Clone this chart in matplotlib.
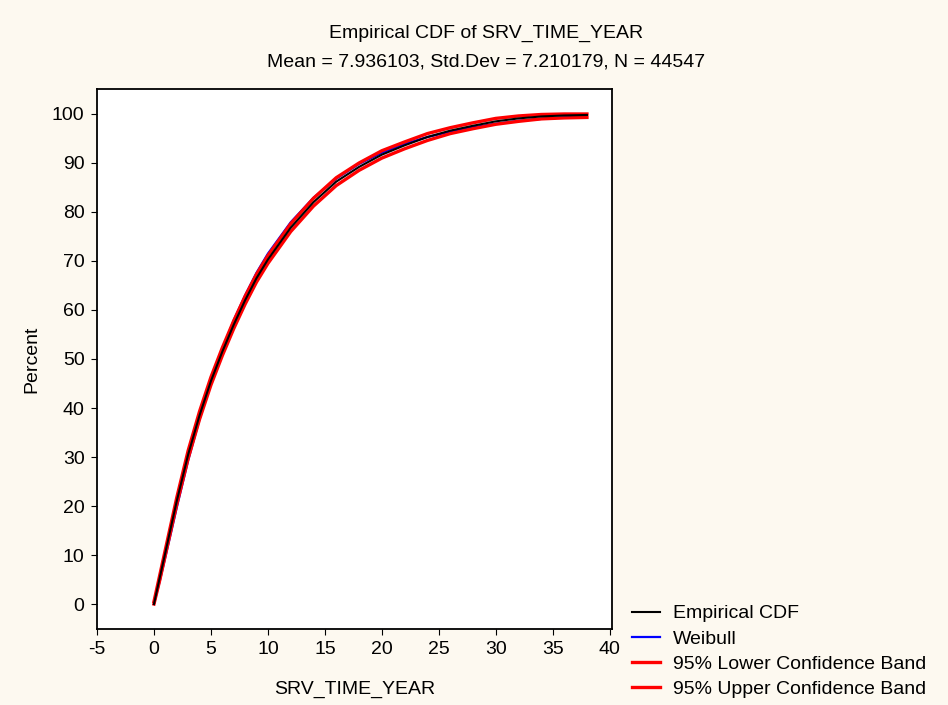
import matplotlib.pyplot as plt

plt.rcParams['font.family'] = ['Liberation Sans', 'DejaVu Sans']
plt.rcParams['axes.unicode_minus'] = False

# values
years = [0, 0.5, 1, 1.5, 2, 3, 4, 5, 6, 7, 8, 9, 10, 12, 14, 16, 18, 20,
         22, 24, 26, 28, 30, 32, 34, 36, 38]
empirical = [0, 5.3, 10.5, 15.8, 21.0, 30.5, 38.5, 45.5, 51.5, 57.0, 62.0,
             66.5, 70.3, 76.8, 82.0, 86.2, 89.2, 91.7, 93.6, 95.3, 96.6,
             97.6, 98.5, 99.1, 99.5, 99.7, 99.8]
weibull = [0, 4.6, 9.6, 14.6, 19.7, 29.3, 37.7, 45.3, 52.0, 57.9, 63.0,
           67.6, 71.5, 77.9, 82.9, 86.8, 89.8, 92.1, 93.9, 95.3, 96.4,
           97.3, 98.0, 98.6, 99.0, 99.3, 99.5]
lower = [0, 4.8, 10.0, 15.2, 20.3, 29.7, 37.7, 44.7, 50.7, 56.2, 61.2,
         65.7, 69.5, 76.0, 81.2, 85.4, 88.5, 91.0, 92.9, 94.6, 96.0,
         97.0, 97.9, 98.5, 99.0, 99.2, 99.3]
upper = [0.5, 5.8, 11.1, 16.4, 21.7, 31.3, 39.3, 46.3, 52.3, 57.8, 62.8,
         67.3, 71.1, 77.6, 82.8, 87.0, 90.0, 92.5, 94.3, 96.0, 97.2,
         98.2, 99.1, 99.6, 99.9, 100.0, 100.0]

title = 'Empirical CDF of SRV_TIME_YEAR'
subtitle = 'Mean = 7.936103, Std.Dev = 7.210179, N = 44547'

fig = plt.figure(figsize=(9.48, 7.05), dpi=100, facecolor='#fdf9f0')
ax = fig.add_axes([97 / 948, 1 - 629 / 705, 515 / 948, 540 / 705])
ax.set_facecolor('white')

ax.plot(years, weibull, color='blue', lw=1.6, label='Weibull', zorder=2)
ax.plot(years, lower, color='red', lw=2.4, label='95% Lower Confidence Band', zorder=3)
ax.plot(years, upper, color='red', lw=2.4, label='95% Upper Confidence Band', zorder=3)
ax.plot(years, empirical, color='black', lw=1.5, label='Empirical CDF', zorder=4)

ax.set_xlim(-5, 40.2)
ax.set_ylim(-5.1, 105.1)
ax.set_xticks(range(-5, 41, 5))
ax.set_yticks(range(0, 101, 10))
ax.tick_params(direction='out', length=4, labelsize=14, top=False, right=False,
               pad=5)
for side in ax.spines.values():
    side.set_linewidth(1.3)

ax.set_xlabel('SRV_TIME_YEAR', fontsize=14, labelpad=16)
ax.set_ylabel('Percent', fontsize=14, labelpad=8)

fig.text(486 / 948, 1 - 33 / 705, title, ha='center', va='center', fontsize=14)
fig.text(486 / 948, 1 - 62 / 705, subtitle, ha='center', va='center', fontsize=14)

handles, labels = ax.get_legend_handles_labels()
order = [3, 0, 1, 2]
fig.legend([handles[i] for i in order], [labels[i] for i in order],
           loc='upper left', bbox_to_anchor=(622 / 948, 1 - 595 / 705),
           frameon=False, fontsize=14, handlelength=1.45, handletextpad=0.65,
           labelspacing=0.39, borderpad=0)

fig.savefig('out.png', dpi=100, facecolor=fig.get_facecolor())
